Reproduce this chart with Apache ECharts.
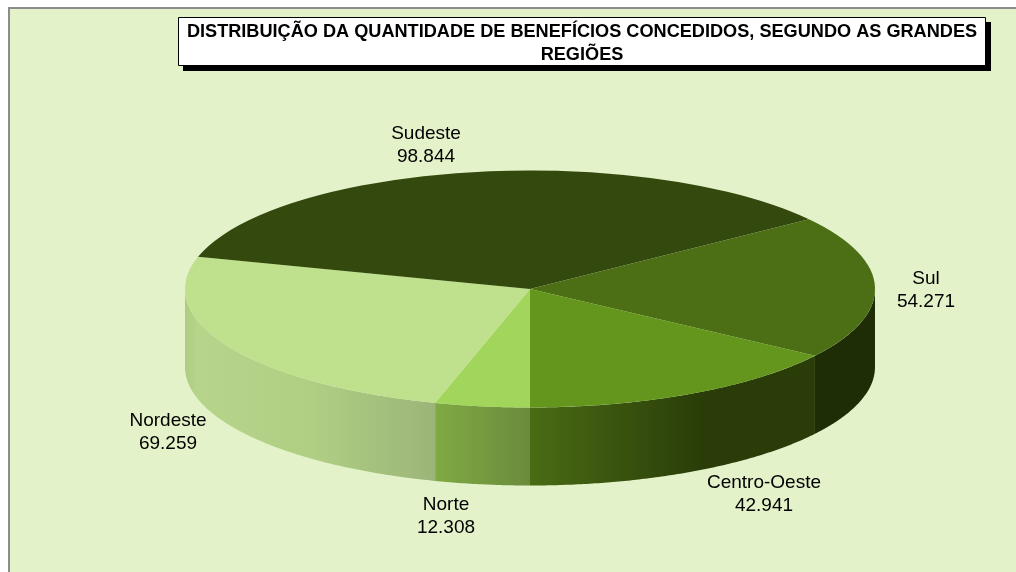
<!DOCTYPE html>
<html>
<head>
<meta charset="utf-8">
<style>html,body{margin:0;padding:0;background:#fff}#c{width:1016px;height:572px}</style>
<script src="https://cdn.jsdelivr.net/npm/echarts@6/dist/echarts.min.js"></script>
</head>
<body>
<div id="c"></div>
<script>
var titleText = 'DISTRIBUIÇÃO DA QUANTIDADE DE BENEFÍCIOS CONCEDIDOS, SEGUNDO AS GRANDES\nREGIÕES';
var categories = ['Norte', 'Nordeste', 'Sudeste', 'Sul', 'Centro-Oeste'];
var values = [12308, 69259, 98844, 54271, 42941];
var valueLabels = ['12.308', '69.259', '98.844', '54.271', '42.941'];

var topColors = ['#a2d55c', '#bfe08d', '#34490d', '#4c6f15', '#64961e'];
var sideStops = [
  [[0, '#80a943'], [1, '#6a8b3d']],
  [[0, '#aecd83'], [0.05, '#b6d58b'], [0.5, '#b0cf83'], [1, '#9bb578']],
  [[0, '#2a3d09'], [1, '#2a3d09']],
  [[0, '#1f2d06'], [1, '#1f2d06']],
  [[0, '#4a6c14'], [0.6, '#2a3d09'], [1, '#2a3d09']]
];
var labelPos = [[446, 516.5], [168, 432.5], [426, 145.5], [926, 290], [764, 494.5]];

var CX = 530, CY = 289, RX = 345, RY = 118.5, DEPTH = 78, START = 180;
var total = values.reduce(function (a, b) { return a + b; }, 0);
var rad = Math.PI / 180;

function edge(theta, dy) {
  return [CX + RX * Math.sin(theta * rad), CY - RY * Math.cos(theta * rad) + dy];
}

function renderItem(params, api) {
  var i = params.dataIndex, before = 0;
  for (var k = 0; k < i; k++) before += values[k];
  var a0 = START + before / total * 360;
  var a1 = a0 + api.value(0) / total * 360;
  var children = [];

  // visible wall: the part of the rim on the front half (90..270 deg, also 450..630)
  [[90, 270], [450, 630]].forEach(function (w) {
    var s = Math.max(a0, w[0]), e = Math.min(a1, w[1]);
    if (e > s) {
      var pts = [], n = Math.ceil(e - s) * 2, j;
      for (j = 0; j <= n; j++) pts.push(edge(s + (e - s) * j / n, 0));
      for (j = n; j >= 0; j--) pts.push(edge(s + (e - s) * j / n, DEPTH));
      children.push({
        type: 'polygon',
        shape: { points: pts },
        style: {
          fill: { type: 'linear', x: 0, y: 0, x2: 1, y2: 0, colorStops: sideStops[i].map(function (c) { return { offset: c[0], color: c[1] }; }) }
        }
      });
    }
  });

  children.push({
    type: 'sector',
    x: CX, y: CY, scaleY: RY / RX,
    shape: { cx: 0, cy: 0, r0: 0, r: RX, startAngle: (a0 - 90) * rad, endAngle: (a1 - 90) * rad, clockwise: true },
    style: { fill: topColors[i] }
  });

  children.push({
    type: 'text',
    z2: 20,
    style: {
      text: categories[i] + '\n' + valueLabels[i],
      x: labelPos[i][0], y: labelPos[i][1],
      align: 'center', verticalAlign: 'middle',
      fontFamily: 'Liberation Sans, Arial, sans-serif', fontSize: 19, lineHeight: 23,
      fill: '#000'
    }
  });
  return { type: 'group', children: children };
}

var chart = echarts.init(document.getElementById('c'), null, { renderer: 'canvas' });
chart.setOption({
  animation: false,
  backgroundColor: '#ffffff',
  graphic: [
    { type: 'rect', z: 0, shape: { x: 9, y: 8, width: 1020, height: 580 }, style: { fill: '#e3f2c9', stroke: '#8c8c8c', lineWidth: 2 } },
    { type: 'rect', z: 1, shape: { x: 183, y: 22, width: 808, height: 49 }, style: { fill: '#000' } },
    { type: 'rect', z: 2, shape: { x: 178.5, y: 17.5, width: 807, height: 48 }, style: { fill: '#fff', stroke: '#000', lineWidth: 1 } }
  ],
  title: {
    text: titleText,
    left: 582, top: 20, padding: 0, z: 6,
    textAlign: 'center',
    textStyle: { fontFamily: 'Liberation Sans, Arial, sans-serif', fontWeight: 'bold', fontSize: 18.15, lineHeight: 23, color: '#000' }
  },
  series: [{
    type: 'custom',
    coordinateSystem: 'none',
    renderItem: renderItem,
    silent: true,
    clip: false,
    data: values.map(function (v, i) { return { name: categories[i], value: [v] }; })
  }]
});
</script>
</body>
</html>
